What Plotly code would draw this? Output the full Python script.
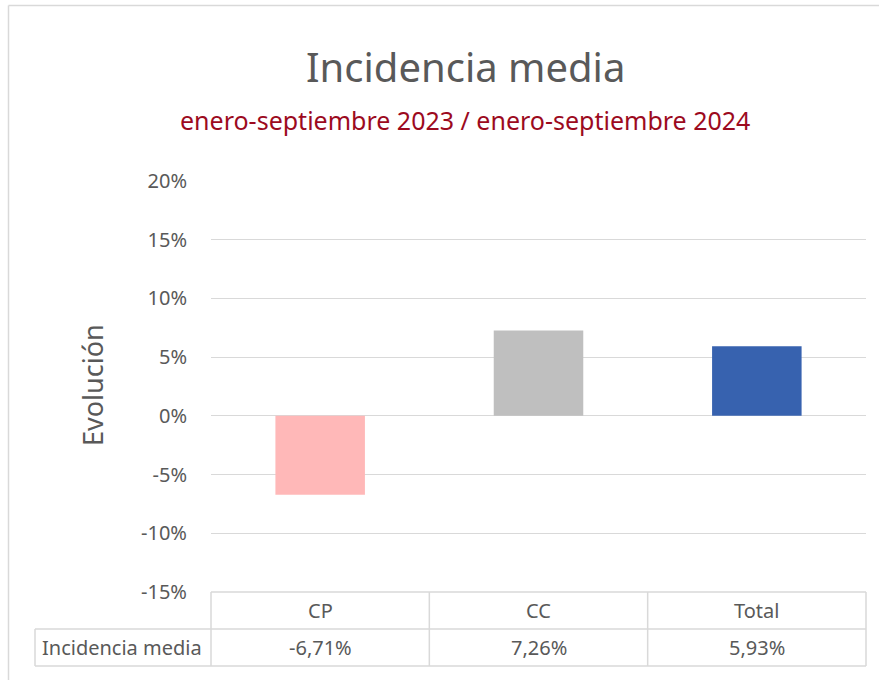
import plotly.graph_objects as go

categories = ["CP", "CC", "Total"]
values = [-0.0671, 0.0726, 0.0593]
value_labels = ["-6,71%", "7,26%", "5,93%"]
bar_colors = ["#FFB8B8", "#BFBFBF", "#3762AF"]
row_label = "Incidencia media"
tick_vals = [-0.15, -0.10, -0.05, 0, 0.05, 0.10, 0.15, 0.20]
tick_text = ["-15%", "-10%", "-5%", "0%", "5%", "10%", "15%", "20%"]

W, H = 879, 680
L, T = 211, 181
R = W - 866
B = H - 592
PW, PH = W - L - R, H - T - B

def px_x(p):
    return (p - L) / PW

def px_y(p):
    return (H - B - p) / PH

FONT = "Noto Sans, Open Sans, sans-serif"
GREY = "#595959"
LINE = "#D9D9D9"

fig = go.Figure()
fig.add_trace(go.Bar(x=categories, y=values, marker=dict(color=bar_colors, line=dict(width=0)),
                     width=0.41, showlegend=False, hoverinfo="skip"))

fig.update_layout(
    width=W, height=H,
    margin=dict(l=L, r=R, t=T, b=B),
    paper_bgcolor="white", plot_bgcolor="white",
    font=dict(family=FONT, color=GREY, size=17),
)
fig.update_xaxes(showticklabels=False, showgrid=False, zeroline=False, showline=False,
                 range=[-0.5, 2.5])
fig.update_yaxes(range=[-0.15, 0.20], tickvals=tick_vals, ticktext=tick_text,
                 showgrid=True, gridcolor=LINE, gridwidth=1.3, zeroline=False,
                 ticks="outside", ticklen=19, tickcolor="rgba(0,0,0,0)",
                 tickfont=dict(size=20, color=GREY))

ann = []
ann.append(dict(text="Incidencia media", x=px_x(465), y=px_y(67), xref="paper", yref="paper",
                showarrow=False, font=dict(size=40, color=GREY, family=FONT),
                xanchor="center", yanchor="middle"))
ann.append(dict(text="enero-septiembre 2023 / enero-septiembre 2024", x=px_x(465), y=px_y(120),
                xref="paper", yref="paper", showarrow=False,
                font=dict(size=25, color="#9C0A1E", family=FONT),
                xanchor="center", yanchor="middle"))
ann.append(dict(text="Evolución", x=px_x(92), y=px_y(385), xref="paper", yref="paper",
                showarrow=False, textangle=-90, font=dict(size=27, color=GREY, family=FONT),
                xanchor="center", yanchor="middle"))
for c, v in zip(categories, value_labels):
    ann.append(dict(text=c, x=c, y=px_y(610), xref="x", yref="paper", showarrow=False,
                    font=dict(size=20, color=GREY), xanchor="center", yanchor="middle"))
    ann.append(dict(text=v, x=c, y=px_y(647), xref="x", yref="paper", showarrow=False,
                    font=dict(size=20, color=GREY), xanchor="center", yanchor="middle"))
ann.append(dict(text=row_label, x=px_x(122), y=px_y(647), xref="paper", yref="paper",
                showarrow=False, font=dict(size=20, color=GREY), xanchor="center", yanchor="middle"))
fig.update_layout(annotations=ann)

shapes = []
def hline(x0, x1, y):
    shapes.append(dict(type="line", xref="paper", yref="paper", x0=px_x(x0), x1=px_x(x1),
                       y0=px_y(y), y1=px_y(y), line=dict(color=LINE, width=1.5), layer="above"))
def vline(x, y0, y1):
    shapes.append(dict(type="line", xref="paper", yref="paper", x0=px_x(x), x1=px_x(x),
                       y0=px_y(y0), y1=px_y(y1), line=dict(color=LINE, width=1.5), layer="above"))

# data table grid
hline(211, 866, 592)
hline(35, 866, 629)
hline(35, 866, 666)
vline(35, 629, 666)
for i in range(len(categories) + 1):
    x = 211 + i * (866 - 211) / len(categories)
    vline(x, 592, 666)

# chart-area border (top-left corner)
hline(8.5, 880, 5.5)
vline(8.5, 5.5, 681)

fig.update_layout(shapes=shapes)
fig.write_html(
    "out.html",
    config={"displayModeBar": False},
    post_script="document.body.style.margin='0';document.body.style.overflow='hidden';"
                "document.documentElement.style.overflow='hidden';",
)
